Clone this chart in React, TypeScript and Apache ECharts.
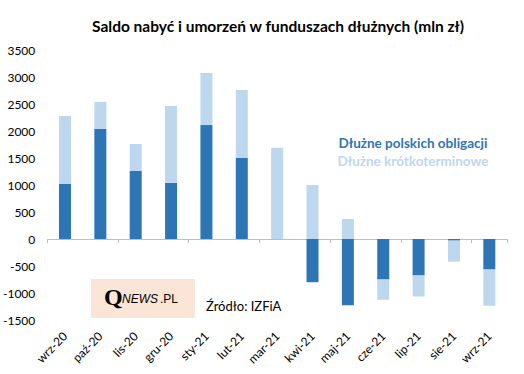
import React, { useEffect, useRef } from "react";
import * as echarts from "echarts";

const categories = ["wrz-20", "paź-20", "lis-20", "gru-20", "sty-21", "lut-21", "mar-21", "kwi-21", "maj-21", "cze-21", "lip-21", "sie-21", "wrz-21"];
const polskichObligacji = [1020, 2040, 1260, 1040, 2110, 1500, 0, -800, -1225, -750, -675, -30, -565];
const krotkoterminowe = [1260, 500, 500, 1425, 965, 1260, 1690, 1000, 370, -375, -390, -390, -670];
const yTicks = { min: -1500, max: 3500, interval: 500 };

const FONT = "Lato, 'Noto Sans', sans-serif";

export default function App() {
  const ref = useRef<HTMLDivElement>(null);
  useEffect(() => {
    const chart = echarts.init(ref.current!, null, { renderer: "svg" });
    chart.setOption({
      animation: false,
      title: {
        text: "Saldo nabyć i umorzeń w funduszach dłużnych (mln zł)",
        left: 273,
        top: 13,
        textAlign: "center",
        textStyle: { fontFamily: FONT, fontSize: 15.5, fontWeight: "bold", color: "#000" },
      },
      grid: { left: 45, right: 17, top: 50, bottom: 54 },
      xAxis: [
        {
          type: "category",
          data: categories,
          axisLine: { onZero: true, lineStyle: { color: "#BFBFBF" } },
          axisTick: { show: true, length: 4, lineStyle: { color: "#BFBFBF" } },
          axisLabel: { show: false },
        },
        {
          type: "category",
          data: categories,
          position: "bottom",
          axisLine: { show: false, onZero: false },
          axisTick: { show: false },
          axisLabel: { rotate: 45, margin: 14, fontFamily: FONT, fontSize: 12, color: "#000" },
        },
      ],
      yAxis: {
        type: "value",
        min: yTicks.min,
        max: yTicks.max,
        interval: yTicks.interval,
        splitLine: { show: false },
        axisLine: { show: false },
        axisTick: { show: false },
        axisLabel: { fontFamily: FONT, fontSize: 12, color: "#000", margin: 12, formatter: (v: number) => String(v) },
      },
      series: [
        {
          name: "Dłużne polskich obligacji",
          type: "bar",
          stack: "s",
          barWidth: 12,
          data: polskichObligacji,
          itemStyle: { color: "#2E75B6" },
        },
        {
          name: "Dłużne krótkoterminowe",
          type: "bar",
          stack: "s",
          barWidth: 12,
          data: krotkoterminowe,
          itemStyle: { color: "#BDD7EE" },
        },
      ],
      graphic: [
        {
          type: "text",
          x: 413,
          y: 143,
          style: { text: "Dłużne polskich obligacji", fill: "#2E75B6", font: `bold 13.5px ${FONT}`, textAlign: "center", textVerticalAlign: "middle" },
        },
        {
          type: "text",
          x: 413,
          y: 161,
          style: { text: "Dłużne krótkoterminowe", fill: "#BDD7EE", font: `bold 13.5px ${FONT}`, textAlign: "center", textVerticalAlign: "middle" },
        },
        {
          type: "rect",
          shape: { x: 91, y: 279, width: 104, height: 39 },
          style: { fill: "#FBE5D6" },
        },
        {
          type: "text",
          x: 104,
          y: 297,
          style: { text: "Q", fill: "#000", font: "bold 24px 'Liberation Serif', serif", textVerticalAlign: "middle" },
        },
        {
          type: "text",
          x: 122,
          y: 299,
          style: { text: "NEWS", fill: "#000", font: "italic 12px 'Liberation Sans', sans-serif", textVerticalAlign: "middle" },
        },
        {
          type: "text",
          x: 160,
          y: 299,
          style: { text: ".PL", fill: "#000", font: "12px 'Liberation Sans', sans-serif", textVerticalAlign: "middle" },
        },
        {
          type: "text",
          x: 206,
          y: 306,
          style: { text: "Źródło: IZFiA", fill: "#000", font: `13px ${FONT}`, textVerticalAlign: "middle" },
        },
      ],
    });
    return () => chart.dispose();
  }, []);
  return <div ref={ref} style={{ position: "absolute", left: 0, top: 0, width: 524, height: 374 }} />;
}
